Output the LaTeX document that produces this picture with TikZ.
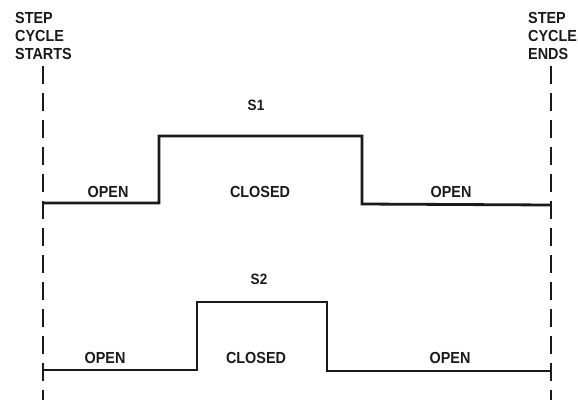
\documentclass[tikz,border=0pt]{standalone}
\usepackage{fontspec}
\setmainfont{Liberation Sans}[FakeStretch=0.9]
\usetikzlibrary{positioning}
\definecolor{ink}{HTML}{1A1A1A}
\tikzset{
  every node/.style={font=\fontsize{16}{18}\selectfont\bfseries,text=ink,inner sep=0pt},
  marker/.style={align=left,anchor=north west},
  wave/.style={draw=ink,line width=2.8pt,line join=miter},
  bound/.style={draw=ink,line width=2.3pt,dash pattern=on 18pt off 9pt},
  statelbl/.style={anchor=base},
  siglbl/.style={anchor=base,font=\fontsize{15}{18}\selectfont\bfseries},
}

\begin{document}
\begin{tikzpicture}[x=1pt,y=-1pt]
\useasboundingbox (0,0) rectangle (578,400);

% cycle boundaries
\node[marker] (starts) at (15,12) {STEP\\CYCLE\\STARTS};
\node[marker] (ends) at (528,12) {STEP\\CYCLE\\ENDS};
\coordinate (startTop) at (43,66);
\coordinate (startBot) at (43,400);
\coordinate (endTop) at (551,66);
\coordinate (endBot) at (551,400);
\draw[bound] (startTop) -- (startBot);
\draw[bound] (endTop) -- (endBot);

% switch S1
\node[siglbl] (s1) at (256,110) {S1};
\draw[wave] (43,203) -| (159,136) -| (362,204) -- (551,205);
\node[statelbl] (s1open) at (108,197) {OPEN};
\node[statelbl] (s1closed) at (260,197) {CLOSED};
\node[statelbl] (s1reopen) at (451,197) {OPEN};

% switch S2
\node[siglbl] (s2) at (259,284) {S2};
\draw[wave] (43,370) -| (197,302) -| (327,371) -- (551,371);
\node[statelbl] (s2open) at (105,363) {OPEN};
\node[statelbl] (s2closed) at (256,363) {CLOSED};
\node[statelbl] (s2reopen) at (450,363) {OPEN};

\end{tikzpicture}
\end{document}
